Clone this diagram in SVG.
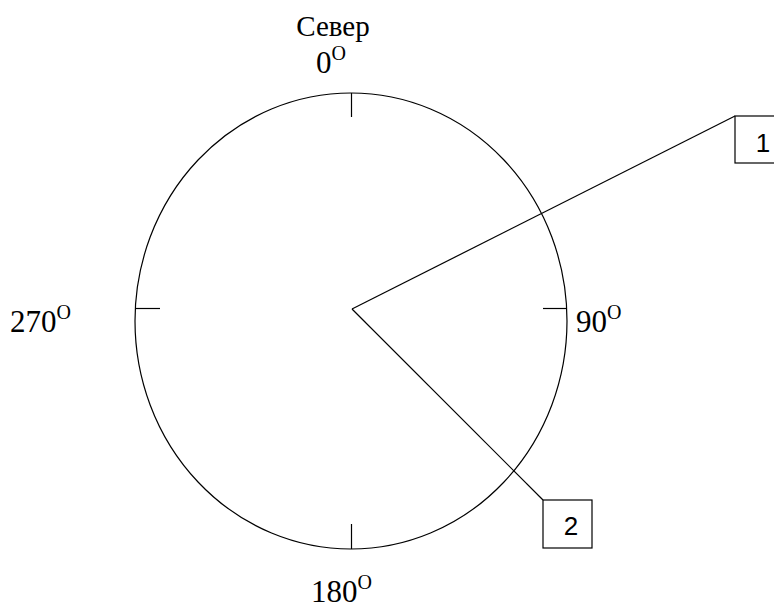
<svg xmlns="http://www.w3.org/2000/svg" width="774" height="608" viewBox="0 0 774 608">
<style>
.ln{stroke:#000;stroke-width:1.2;fill:none}
.serif{font-family:"Liberation Serif","Times New Roman",serif;fill:#000}
.num{font-size:31px}
.sup{font-size:20px}
.box{fill:#fff;stroke:#000;stroke-width:1.2}
.bt{font-family:"Liberation Sans",Arial,sans-serif;font-size:26px;fill:#000;text-anchor:middle}
</style>
<rect width="774" height="608" fill="#fff"/>
<g id="dial">
<ellipse class="ln" cx="351" cy="321" rx="216" ry="228"/>
<line class="ln" x1="351.5" y1="93" x2="351.5" y2="117"/>
<line class="ln" x1="351.5" y1="524" x2="351.5" y2="549"/>
<line class="ln" x1="135" y1="308.5" x2="160" y2="308.5"/>
<line class="ln" x1="543" y1="308.5" x2="567" y2="308.5"/>
</g>
<g id="labels">
<text class="serif" x="333" y="36" font-size="29" text-anchor="middle">Север</text>
<text class="serif num" x="316" y="73">0<tspan class="sup" dy="-13">O</tspan></text>
<text class="serif num" x="10" y="332">270<tspan class="sup" dy="-13">O</tspan></text>
<text class="serif num" x="576" y="332">90<tspan class="sup" dy="-13">O</tspan></text>
<text class="serif num" x="311" y="602">180<tspan class="sup" dy="-13">O</tspan></text>
</g>
<g id="connectors">
<line class="ln" x1="352" y1="309" x2="735" y2="116"/>
<line class="ln" x1="352" y1="309" x2="543" y2="500"/>
</g>
<g id="node1">
<rect class="box" x="735" y="116" width="49" height="47"/>
<text class="bt" x="763" y="152">1</text>
</g>
<g id="node2">
<rect class="box" x="543" y="500" width="49" height="48"/>
<text class="bt" x="571" y="535">2</text>
</g>
</svg>
